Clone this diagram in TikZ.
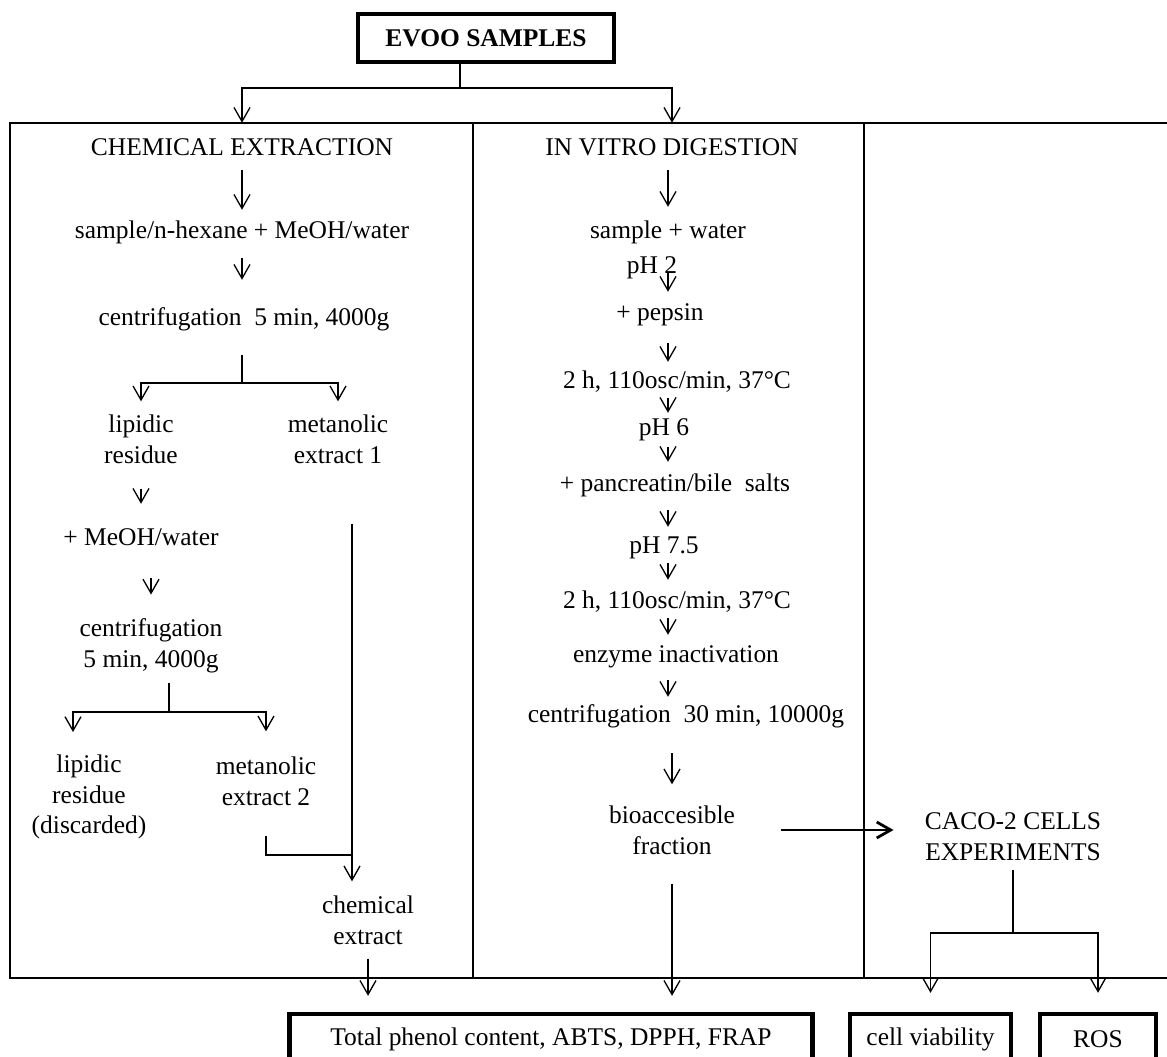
\documentclass[tikz,border=0pt]{standalone}
\usepackage{fontspec}
\setmainfont{Liberation Serif}
\usetikzlibrary{arrows.meta}
\tikzset{
  phase/.style={
    % The text:
    font=\fontsize{14.5}{17.5}\selectfont,
    % The size:
    inner sep=0pt},
  single/.style={
    phase,
    text height=10pt,text depth=3.5pt},
  twoline/.style={
    phase,
    align=center},
  procbox/.style={
    % The shape:
    rectangle,
    minimum height=1cm,
    % The border:
    line width=2.5pt,
    draw=black,
    % The rest
    inner sep=0pt,
    font=\fontsize{14.5}{17.5}\selectfont}
}

\begin{document}
\begin{tikzpicture}[x=0.02cm,y=-0.02cm,
                    >={Straight Barb[length=2.8mm,width=3.2mm]},
                    line/.style={line width=0.75pt},
                    stem/.style={line width=1.6pt},
                    tip/.style={->,line width=0.75pt},
                    frame/.style={line width=1.7pt}]
  \useasboundingbox (0,0) rectangle (1167,1057);

  % panels
  \draw[frame] (10,123) rectangle (1190,978);
  \draw[line] (473,123) -- (473,978);
  \draw[line] (864,123) -- (864,978);

  \node[procbox,minimum width=5.12cm,minimum height=0.96cm,font=\fontsize{14.5}{17.5}\selectfont\bfseries]
    (evoo) at (486,38) {EVOO SAMPLES};
  \coordinate (top) at (460,88);

  % chemical extraction
  \node[single] (chem) at (242,150) {CHEMICAL EXTRACTION};
  \node[single] (hex) at (242,233) {sample/n-hexane + MeOH/water};
  \node[single] (cenA) at (244,320) {centrifugation\ \ 5 min, 4000g};
  \coordinate (splitA) at (242,383);
  \node[twoline] (lipA) at (141,439) {lipidic\\residue};
  \node[twoline] (metA) at (338,439) {metanolic\\extract 1};
  \node[single] (meoh) at (141,540) {+ MeOH/water};
  \node[twoline] (cenB) at (151,646) {centrifugation\\5 min, 4000g};
  \coordinate (splitB) at (169,712);
  \coordinate (lipBtip) at (73,732);
  \node[twoline] (lipB) at (89,797) {lipidic\\residue\\(discarded)};
  \node[twoline] (metB) at (266,781) {metanolic\\extract 2};
  \coordinate (merge) at (352,855);
  \node[twoline] (chemx) at (368,920) {chemical\\extract};

  % in vitro digestion
  \coordinate (mid) at (668,0);
  \node[single] (vitro) at (672,150) {IN VITRO DIGESTION};
  \node[single] (water) at (668,233) {sample + water};
  \node[single] (ph2) at (652,268) {pH 2};
  \node[single] (pepsin) at (660,315) {+ pepsin};
  \node[single] (incA) at (677,383) {2 h, 110osc/min, 37°C};
  \node[single] (ph6) at (664,430) {pH 6};
  \node[single] (panc) at (675,486) {+ pancreatin/bile\ \ salts};
  \node[single] (ph75) at (664,548) {pH 7.5};
  \node[single] (incB) at (677,603) {2 h, 110osc/min, 37°C};
  \node[single] (enz) at (676,657) {enzyme inactivation};
  \node[single] (cenC) at (686,717) {centrifugation\ \ 30 min, 10000g};
  \node[twoline] (bio) at (672,830) {bioaccesible\\fraction};

  % cells
  \node[twoline] (caco) at (1013,837) {CACO-2 CELLS\\EXPERIMENTS};
  \coordinate (splitC) at (1013,933);

  % assays
  \node[procbox,minimum width=10.46cm] (assay) at (551,1039) {Total phenol content, ABTS, DPPH, FRAP};
  \node[procbox,minimum width=3.22cm] (viab) at (930.5,1039) {cell viability};
  \node[procbox,minimum width=2.32cm] (ros) at (1098,1039) {ROS};

  % connectors
  \draw[line] (evoo.south -| top) -- (top);
  \draw[tip,shorten >=3mm] (top) -| (chem);
  \draw[tip,shorten >=3mm] (top) -| (vitro);

  \draw[tip,shorten <=1.6mm,shorten >=2.2mm] (chem) -- (hex);
  \draw[tip,shorten <=2.6mm,shorten >=5.6mm] (hex) -- (cenA.north -| hex);
  \draw[stem,shorten <=4.6mm] (cenA.south -| splitA) -- (splitA);
  \draw[tip,shorten >=2.6mm] (splitA) -| (lipA);
  \draw[tip,shorten >=2.6mm] (splitA) -| (metA);
  \draw[tip,shorten <=5mm,shorten >=4.8mm] (lipA) -- (meoh);
  \draw[tip,shorten <=5.2mm,shorten >=4.8mm] (meoh.south -| cenB) -- (cenB);
  \draw[stem,shorten <=2mm] (cenB.south -| splitB) -- (splitB);
  \draw[tip] (splitB) -| (lipBtip);
  \draw[tip,shorten >=5mm] (splitB) -| (metB);
  \draw[line,shorten <=6mm] (metB) |- (merge);
  \draw[tip,shorten <=12mm,shorten >=2.8mm] (metA.south -| merge) -- (merge) -- (chemx.north -| merge);
  \draw[tip,shorten <=2.8mm,shorten >=3.2mm] (chemx) -- (chemx |- assay.north);

  \draw[tip,shorten <=1.6mm,shorten >=2.8mm] (vitro.south -| mid) -- (water.north -| mid);
  \draw[tip,shorten <=-1.4mm,shorten >=2.2mm] (ph2.south -| mid) -- (pepsin.north -| mid);
  \draw[tip,shorten <=3.2mm,shorten >=1.8mm] (pepsin.south -| mid) -- (incA.north -| mid);
  \draw[tip,shorten <=0.6mm,shorten >=1mm] (incA.south -| mid) -- (ph6.north -| mid);
  \draw[tip,shorten <=1mm,shorten >=2.4mm] (ph6.south -| mid) -- (panc.north -| mid);
  \draw[tip,shorten <=2.4mm,shorten >=1.8mm] (panc.south -| mid) -- (ph75.north -| mid);
  \draw[tip,shorten <=0.6mm,shorten >=2.2mm] (ph75.south -| mid) -- (incB.north -| mid);
  \draw[tip,shorten <=0.6mm,shorten >=2mm] (incB.south -| mid) -- (enz.north -| mid);
  \draw[tip,shorten <=2.2mm,shorten >=1.6mm] (enz.south -| mid) -- (cenC.north -| mid);
  \draw[tip,shorten <=4.8mm,shorten >=4.2mm] (cenC.south -| bio) -- (bio);
  \draw[tip,shorten <=5.8mm,shorten >=3.2mm] (bio) -- (bio |- assay.north);
  \draw[tip,line width=1.6pt,shorten <=9.1mm,shorten >=6.2mm] (bio.east) -- (bio.east -| caco.west);

  \draw[stem,shorten <=1.8mm] (caco) -- (splitC);
  \draw[tip,shorten >=3.8mm] (splitC) -| (viab);
  \draw[tip,shorten >=3.8mm] (splitC) -| (ros);
\end{tikzpicture}
\end{document}
